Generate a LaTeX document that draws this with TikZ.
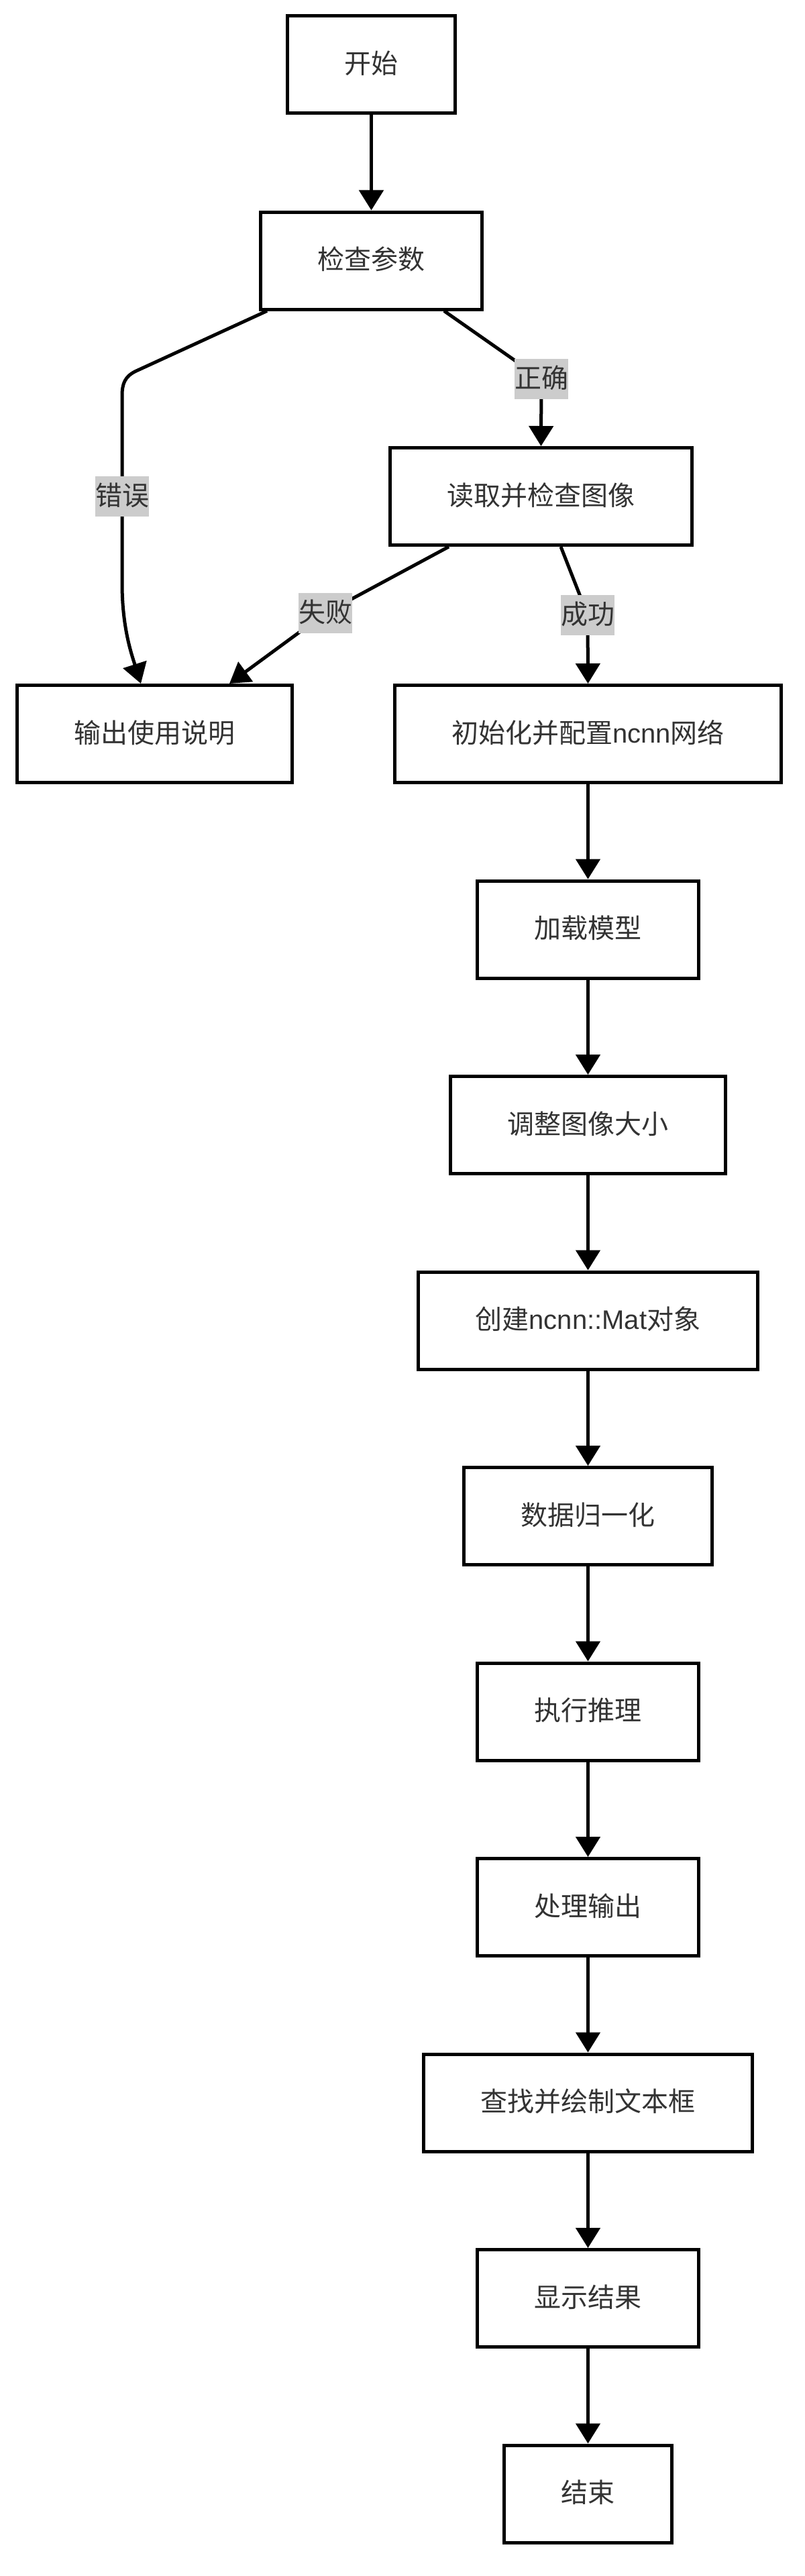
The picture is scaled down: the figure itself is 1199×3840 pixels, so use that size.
\documentclass[tikz,border=0pt]{standalone}
\usepackage{fontspec}
\setmainfont{Noto Sans CJK SC}
\newfontfamily\lat{Liberation Sans}
\usetikzlibrary{arrows.meta,calc}
\definecolor{txt}{HTML}{333333}
\definecolor{lblbg}{HTML}{CCCCCC}
\begin{document}
\begin{tikzpicture}[x=1pt,y=-1pt,
  box/.style={draw=black, line width=5pt, fill=white, text=txt,
    inner xsep=85pt, inner ysep=0pt, minimum height=145pt,
    font=\fontsize{40pt}{48pt}\selectfont, text height=33pt, text depth=7pt},
  lbl/.style={fill=lblbg, text=txt, inner xsep=0pt, inner ysep=10pt,
    font=\fontsize{40pt}{48pt}\selectfont, text height=33pt, text depth=7pt},
  arr/.style={draw=black, line width=5pt, line join=round,
    -{Triangle[length=30pt,width=36pt]}}
]
\useasboundingbox[fill=white] (0,0) rectangle (1199,3840);

% nodes
\node[box] (start)  at (553.5,96.5)  {开始};
\node[box] (check)  at (553.5,388.5) {检查参数};
\node[box] (read)   at (806.5,740)   {读取并检查图像};
\node[box] (usage)  at (230.5,1094)  {输出使用说明};
\node[box] (init)   at (876.5,1094)  {初始化并配置{\lat ncnn}网络};
\node[box] (load)   at (876.5,1385.5){加载模型};
\node[box] (resize) at (876.5,1677)  {调整图像大小};
\node[box] (mat)    at (876.5,1968.5){创建{\lat ncnn::Mat}对象};
\node[box] (norm)   at (876.5,2260)  {数据归一化};
\node[box] (infer)  at (876.5,2551.5){执行推理};
\node[box] (proc)   at (876.5,2843)  {处理输出};
\node[box] (find)   at (876.5,3134.5){查找并绘制文本框};
\node[box] (disp)   at (876.5,3426)  {显示结果};
\node[box] (end)    at (876.5,3717.5){结束};

% label positions
\coordinate (pA) at (807,565);
\coordinate (pE) at (182,740);
\coordinate (pF) at (485,914);
\coordinate (pS) at (876,917);

% helper points for the curved error edge
\coordinate (e1) at (203,553);
\coordinate (e2) at (186,561);
\coordinate (e3) at (182,572);
\coordinate (e4) at (182,590);
\coordinate (e5) at (182,870);
\coordinate (e6) at (182,935);
\coordinate (e7) at (196,975);

% connectors
\draw[arr] (start) -- (check);
\draw[arr] ($(check.south)+(108.5,0)$) -- (pA) -- (read.north);
\draw[arr] ($(check.south)+(-155.5,0)$) -- (e1) .. controls (e2) and (e3) .. (e4)
  -- (e5) .. controls (e6) and (e7) .. ($(usage.north)+(-20.5,0)$);
\draw[arr] ($(read.south)+(-137.5,0)$) -- (pF) -- ($(usage.north)+(111.5,0)$);
\draw[arr] ($(read.south)+(29.5,0)$) -- (pS) -- (init.north);
\draw[arr] (init) -- (load);
\draw[arr] (load) -- (resize);
\draw[arr] (resize) -- (mat);
\draw[arr] (mat) -- (norm);
\draw[arr] (norm) -- (infer);
\draw[arr] (infer) -- (proc);
\draw[arr] (proc) -- (find);
\draw[arr] (find) -- (disp);
\draw[arr] (disp) -- (end);

% edge labels
\node[lbl] (lA) at (pA) {正确};
\node[lbl] (lE) at (pE) {错误};
\node[lbl] (lF) at (pF) {失败};
\node[lbl] (lS) at (pS) {成功};
\end{tikzpicture}
\end{document}
